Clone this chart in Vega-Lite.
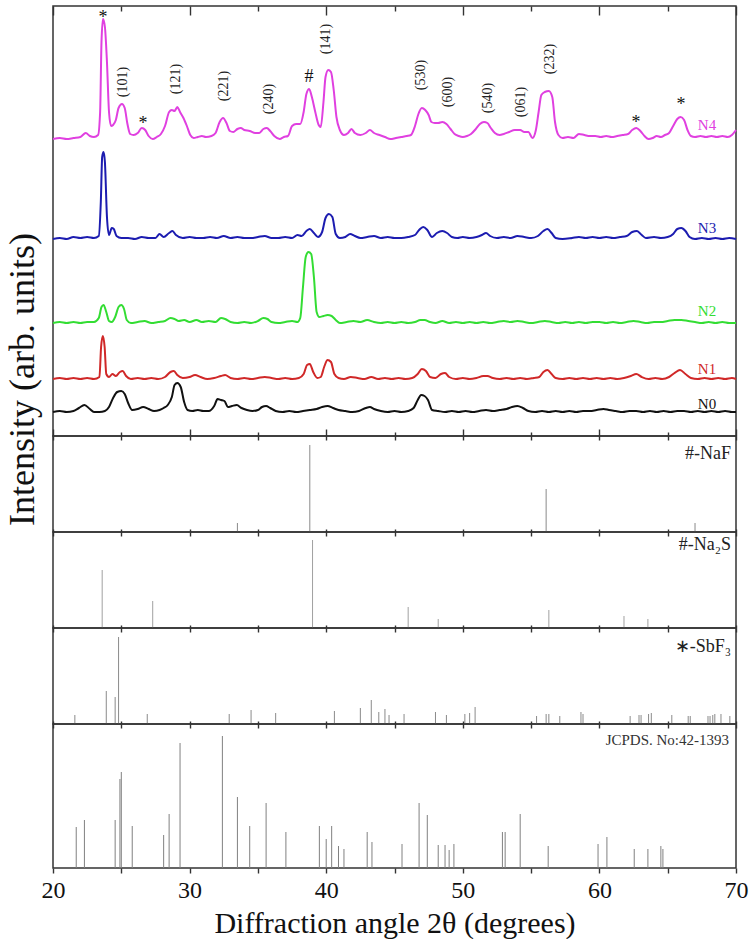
{
"$schema":"https://vega.github.io/schema/vega-lite/v6.json",
"padding":{"left":3,"top":4,"right":0,"bottom":0},
"background":"white",
"bounds":"flush",
"config":{"view":{"stroke":"#333","strokeWidth":1.5},"font":"Liberation Serif","axis":{"domain":false,"grid":false,"tickColor":"#333","tickWidth":1.4}},
"datasets":{
"traces":[
{"s":"N4","t":20,"v":297},{"s":"N4","t":20.5,"v":298},{"s":"N4","t":21,"v":297},{"s":"N4","t":21.5,"v":298},{"s":"N4","t":22,"v":299},{"s":"N4","t":22.4,"v":303},{"s":"N4","t":22.7,"v":300},{"s":"N4","t":23,"v":299},{"s":"N4","t":23.3,"v":301},{"s":"N4","t":23.45,"v":324},{"s":"N4","t":23.55,"v":394},{"s":"N4","t":23.66,"v":417},{"s":"N4","t":23.8,"v":409},{"s":"N4","t":23.95,"v":374},{"s":"N4","t":24.1,"v":324},{"s":"N4","t":24.25,"v":310},{"s":"N4","t":24.4,"v":311},{"s":"N4","t":24.6,"v":316},{"s":"N4","t":24.8,"v":328},{"s":"N4","t":25.05,"v":332},{"s":"N4","t":25.25,"v":328},{"s":"N4","t":25.45,"v":312},{"s":"N4","t":25.65,"v":302},{"s":"N4","t":25.9,"v":301},{"s":"N4","t":26.2,"v":303},{"s":"N4","t":26.5,"v":308},{"s":"N4","t":26.75,"v":306},{"s":"N4","t":27,"v":300},{"s":"N4","t":27.3,"v":297},{"s":"N4","t":27.6,"v":299},{"s":"N4","t":27.9,"v":302},{"s":"N4","t":28.2,"v":310},{"s":"N4","t":28.5,"v":324},{"s":"N4","t":28.7,"v":326},{"s":"N4","t":28.9,"v":325},{"s":"N4","t":29.1,"v":329},{"s":"N4","t":29.3,"v":324},{"s":"N4","t":29.55,"v":318},{"s":"N4","t":29.8,"v":310},{"s":"N4","t":30.05,"v":301},{"s":"N4","t":30.3,"v":298},{"s":"N4","t":30.6,"v":299},{"s":"N4","t":30.9,"v":300},{"s":"N4","t":31.2,"v":299},{"s":"N4","t":31.6,"v":300},{"s":"N4","t":31.9,"v":303},{"s":"N4","t":32.2,"v":314},{"s":"N4","t":32.45,"v":318},{"s":"N4","t":32.7,"v":313},{"s":"N4","t":32.95,"v":305},{"s":"N4","t":33.2,"v":304},{"s":"N4","t":33.5,"v":307},{"s":"N4","t":33.75,"v":308},{"s":"N4","t":34,"v":306},{"s":"N4","t":34.4,"v":305},{"s":"N4","t":34.8,"v":303},{"s":"N4","t":35.1,"v":303},{"s":"N4","t":35.4,"v":307},{"s":"N4","t":35.65,"v":308},{"s":"N4","t":35.9,"v":305},{"s":"N4","t":36.2,"v":300},{"s":"N4","t":36.6,"v":297},{"s":"N4","t":36.9,"v":299},{"s":"N4","t":37.2,"v":300},{"s":"N4","t":37.5,"v":310},{"s":"N4","t":37.8,"v":312},{"s":"N4","t":38.1,"v":312},{"s":"N4","t":38.35,"v":324},{"s":"N4","t":38.55,"v":342},{"s":"N4","t":38.75,"v":347},{"s":"N4","t":38.95,"v":339},{"s":"N4","t":39.2,"v":324},{"s":"N4","t":39.45,"v":311},{"s":"N4","t":39.6,"v":309},{"s":"N4","t":39.8,"v":334},{"s":"N4","t":39.95,"v":359},{"s":"N4","t":40.15,"v":366},{"s":"N4","t":40.35,"v":364},{"s":"N4","t":40.55,"v":346},{"s":"N4","t":40.75,"v":319},{"s":"N4","t":41,"v":306},{"s":"N4","t":41.3,"v":301},{"s":"N4","t":41.6,"v":303},{"s":"N4","t":41.85,"v":307},{"s":"N4","t":42.1,"v":303},{"s":"N4","t":42.5,"v":301},{"s":"N4","t":42.9,"v":303},{"s":"N4","t":43.2,"v":306},{"s":"N4","t":43.5,"v":303},{"s":"N4","t":43.9,"v":301},{"s":"N4","t":44.3,"v":299},{"s":"N4","t":44.7,"v":297},{"s":"N4","t":45.1,"v":298},{"s":"N4","t":45.5,"v":299},{"s":"N4","t":45.9,"v":300},{"s":"N4","t":46.2,"v":301},{"s":"N4","t":46.5,"v":310},{"s":"N4","t":46.75,"v":322},{"s":"N4","t":47,"v":328},{"s":"N4","t":47.25,"v":326},{"s":"N4","t":47.5,"v":321},{"s":"N4","t":47.7,"v":314},{"s":"N4","t":47.95,"v":313},{"s":"N4","t":48.2,"v":313},{"s":"N4","t":48.5,"v":314},{"s":"N4","t":48.8,"v":312},{"s":"N4","t":49.1,"v":307},{"s":"N4","t":49.4,"v":302},{"s":"N4","t":49.7,"v":300},{"s":"N4","t":50,"v":299},{"s":"N4","t":50.3,"v":300},{"s":"N4","t":50.6,"v":302},{"s":"N4","t":50.95,"v":307},{"s":"N4","t":51.25,"v":312},{"s":"N4","t":51.55,"v":314},{"s":"N4","t":51.8,"v":313},{"s":"N4","t":52.05,"v":308},{"s":"N4","t":52.35,"v":303},{"s":"N4","t":52.7,"v":301},{"s":"N4","t":53,"v":302},{"s":"N4","t":53.4,"v":304},{"s":"N4","t":53.8,"v":306},{"s":"N4","t":54.2,"v":306},{"s":"N4","t":54.5,"v":304},{"s":"N4","t":54.8,"v":304},{"s":"N4","t":55.1,"v":298},{"s":"N4","t":55.35,"v":306},{"s":"N4","t":55.55,"v":324},{"s":"N4","t":55.75,"v":341},{"s":"N4","t":56,"v":344},{"s":"N4","t":56.3,"v":345},{"s":"N4","t":56.55,"v":339},{"s":"N4","t":56.75,"v":314},{"s":"N4","t":57,"v":301},{"s":"N4","t":57.3,"v":298},{"s":"N4","t":57.7,"v":299},{"s":"N4","t":58.1,"v":298},{"s":"N4","t":58.5,"v":302},{"s":"N4","t":58.9,"v":301},{"s":"N4","t":59.3,"v":300},{"s":"N4","t":59.7,"v":300},{"s":"N4","t":60.1,"v":299},{"s":"N4","t":60.5,"v":300},{"s":"N4","t":60.9,"v":299},{"s":"N4","t":61.3,"v":300},{"s":"N4","t":61.7,"v":301},{"s":"N4","t":62.1,"v":302},{"s":"N4","t":62.4,"v":306},{"s":"N4","t":62.7,"v":308},{"s":"N4","t":63,"v":305},{"s":"N4","t":63.3,"v":300},{"s":"N4","t":63.6,"v":297},{"s":"N4","t":63.9,"v":298},{"s":"N4","t":64.2,"v":300},{"s":"N4","t":64.5,"v":299},{"s":"N4","t":64.8,"v":301},{"s":"N4","t":65.1,"v":303},{"s":"N4","t":65.4,"v":310},{"s":"N4","t":65.7,"v":317},{"s":"N4","t":65.95,"v":319},{"s":"N4","t":66.2,"v":316},{"s":"N4","t":66.45,"v":306},{"s":"N4","t":66.7,"v":300},{"s":"N4","t":67,"v":299},{"s":"N4","t":67.4,"v":300},{"s":"N4","t":67.8,"v":299},{"s":"N4","t":68.2,"v":300},{"s":"N4","t":68.6,"v":299},{"s":"N4","t":69,"v":300},{"s":"N4","t":69.4,"v":299},{"s":"N4","t":69.7,"v":301},{"s":"N4","t":70,"v":306},
{"s":"N3","t":20,"v":197},{"s":"N3","t":20.5,"v":198},{"s":"N3","t":21,"v":197},{"s":"N3","t":21.5,"v":199},{"s":"N3","t":22,"v":198},{"s":"N3","t":22.5,"v":199},{"s":"N3","t":23,"v":198},{"s":"N3","t":23.35,"v":200},{"s":"N3","t":23.5,"v":234},{"s":"N3","t":23.6,"v":279},{"s":"N3","t":23.7,"v":284},{"s":"N3","t":23.8,"v":274},{"s":"N3","t":23.95,"v":219},{"s":"N3","t":24.1,"v":201},{"s":"N3","t":24.3,"v":208},{"s":"N3","t":24.45,"v":207},{"s":"N3","t":24.65,"v":200},{"s":"N3","t":25,"v":198},{"s":"N3","t":25.5,"v":198},{"s":"N3","t":26,"v":197},{"s":"N3","t":26.5,"v":199},{"s":"N3","t":27,"v":198},{"s":"N3","t":27.5,"v":198},{"s":"N3","t":27.8,"v":202},{"s":"N3","t":28.1,"v":199},{"s":"N3","t":28.5,"v":203},{"s":"N3","t":28.75,"v":205},{"s":"N3","t":29,"v":201},{"s":"N3","t":29.5,"v":198},{"s":"N3","t":30,"v":199},{"s":"N3","t":30.5,"v":198},{"s":"N3","t":31,"v":198},{"s":"N3","t":31.5,"v":199},{"s":"N3","t":32,"v":198},{"s":"N3","t":32.5,"v":200},{"s":"N3","t":33,"v":198},{"s":"N3","t":33.5,"v":199},{"s":"N3","t":34,"v":198},{"s":"N3","t":34.5,"v":198},{"s":"N3","t":35,"v":199},{"s":"N3","t":35.5,"v":200},{"s":"N3","t":36,"v":198},{"s":"N3","t":36.5,"v":198},{"s":"N3","t":37,"v":199},{"s":"N3","t":37.5,"v":198},{"s":"N3","t":37.9,"v":201},{"s":"N3","t":38.2,"v":200},{"s":"N3","t":38.55,"v":205},{"s":"N3","t":38.8,"v":207},{"s":"N3","t":39.1,"v":203},{"s":"N3","t":39.4,"v":199},{"s":"N3","t":39.7,"v":204},{"s":"N3","t":39.95,"v":218},{"s":"N3","t":40.2,"v":222},{"s":"N3","t":40.45,"v":219},{"s":"N3","t":40.7,"v":202},{"s":"N3","t":41,"v":198},{"s":"N3","t":41.4,"v":199},{"s":"N3","t":41.75,"v":202},{"s":"N3","t":42.1,"v":200},{"s":"N3","t":42.5,"v":198},{"s":"N3","t":43,"v":199},{"s":"N3","t":43.5,"v":200},{"s":"N3","t":44,"v":198},{"s":"N3","t":44.5,"v":199},{"s":"N3","t":45,"v":198},{"s":"N3","t":45.5,"v":198},{"s":"N3","t":46,"v":199},{"s":"N3","t":46.5,"v":201},{"s":"N3","t":46.8,"v":206},{"s":"N3","t":47.1,"v":209},{"s":"N3","t":47.4,"v":206},{"s":"N3","t":47.75,"v":199},{"s":"N3","t":48.1,"v":203},{"s":"N3","t":48.5,"v":205},{"s":"N3","t":48.85,"v":203},{"s":"N3","t":49.2,"v":199},{"s":"N3","t":49.6,"v":198},{"s":"N3","t":50,"v":199},{"s":"N3","t":50.5,"v":198},{"s":"N3","t":51,"v":199},{"s":"N3","t":51.4,"v":201},{"s":"N3","t":51.7,"v":203},{"s":"N3","t":52,"v":200},{"s":"N3","t":52.5,"v":198},{"s":"N3","t":53,"v":199},{"s":"N3","t":53.5,"v":198},{"s":"N3","t":54,"v":200},{"s":"N3","t":54.5,"v":199},{"s":"N3","t":55,"v":198},{"s":"N3","t":55.5,"v":200},{"s":"N3","t":55.9,"v":205},{"s":"N3","t":56.2,"v":207},{"s":"N3","t":56.5,"v":203},{"s":"N3","t":56.8,"v":198},{"s":"N3","t":57.3,"v":197},{"s":"N3","t":58,"v":198},{"s":"N3","t":58.5,"v":199},{"s":"N3","t":59,"v":198},{"s":"N3","t":59.5,"v":199},{"s":"N3","t":60,"v":198},{"s":"N3","t":60.5,"v":199},{"s":"N3","t":61,"v":198},{"s":"N3","t":61.5,"v":199},{"s":"N3","t":62,"v":200},{"s":"N3","t":62.4,"v":204},{"s":"N3","t":62.75,"v":205},{"s":"N3","t":63.1,"v":201},{"s":"N3","t":63.4,"v":198},{"s":"N3","t":64,"v":199},{"s":"N3","t":64.5,"v":198},{"s":"N3","t":65,"v":199},{"s":"N3","t":65.4,"v":202},{"s":"N3","t":65.7,"v":207},{"s":"N3","t":66,"v":208},{"s":"N3","t":66.3,"v":205},{"s":"N3","t":66.6,"v":199},{"s":"N3","t":67,"v":197},{"s":"N3","t":67.5,"v":198},{"s":"N3","t":68,"v":197},{"s":"N3","t":68.5,"v":198},{"s":"N3","t":69,"v":197},{"s":"N3","t":69.5,"v":198},{"s":"N3","t":70,"v":197},
{"s":"N2","t":20,"v":113},{"s":"N2","t":20.5,"v":114},{"s":"N2","t":21,"v":113},{"s":"N2","t":21.5,"v":114},{"s":"N2","t":22,"v":113},{"s":"N2","t":22.5,"v":114},{"s":"N2","t":23,"v":114},{"s":"N2","t":23.35,"v":118},{"s":"N2","t":23.55,"v":129},{"s":"N2","t":23.7,"v":131},{"s":"N2","t":23.9,"v":124},{"s":"N2","t":24.1,"v":115},{"s":"N2","t":24.3,"v":114},{"s":"N2","t":24.55,"v":119},{"s":"N2","t":24.8,"v":129},{"s":"N2","t":25,"v":131},{"s":"N2","t":25.2,"v":127},{"s":"N2","t":25.4,"v":116},{"s":"N2","t":25.7,"v":113},{"s":"N2","t":26.2,"v":114},{"s":"N2","t":26.7,"v":115},{"s":"N2","t":27.2,"v":113},{"s":"N2","t":27.7,"v":114},{"s":"N2","t":28.2,"v":115},{"s":"N2","t":28.6,"v":118},{"s":"N2","t":28.9,"v":117},{"s":"N2","t":29.2,"v":115},{"s":"N2","t":29.6,"v":116},{"s":"N2","t":30,"v":114},{"s":"N2","t":30.5,"v":116},{"s":"N2","t":30.9,"v":114},{"s":"N2","t":31.4,"v":115},{"s":"N2","t":31.9,"v":114},{"s":"N2","t":32.3,"v":118},{"s":"N2","t":32.6,"v":117},{"s":"N2","t":33,"v":114},{"s":"N2","t":33.5,"v":113},{"s":"N2","t":34,"v":114},{"s":"N2","t":34.5,"v":113},{"s":"N2","t":35,"v":115},{"s":"N2","t":35.4,"v":118},{"s":"N2","t":35.7,"v":117},{"s":"N2","t":36,"v":114},{"s":"N2","t":36.5,"v":113},{"s":"N2","t":37,"v":114},{"s":"N2","t":37.5,"v":115},{"s":"N2","t":37.9,"v":114},{"s":"N2","t":38.1,"v":118},{"s":"N2","t":38.3,"v":149},{"s":"N2","t":38.5,"v":179},{"s":"N2","t":38.7,"v":184},{"s":"N2","t":38.9,"v":182},{"s":"N2","t":39.1,"v":159},{"s":"N2","t":39.3,"v":124},{"s":"N2","t":39.5,"v":119},{"s":"N2","t":39.8,"v":120},{"s":"N2","t":40.1,"v":121},{"s":"N2","t":40.4,"v":120},{"s":"N2","t":40.7,"v":116},{"s":"N2","t":41,"v":113},{"s":"N2","t":41.5,"v":114},{"s":"N2","t":42,"v":115},{"s":"N2","t":42.5,"v":114},{"s":"N2","t":43,"v":116},{"s":"N2","t":43.5,"v":114},{"s":"N2","t":44,"v":113},{"s":"N2","t":44.5,"v":114},{"s":"N2","t":45,"v":113},{"s":"N2","t":45.5,"v":114},{"s":"N2","t":46,"v":113},{"s":"N2","t":46.5,"v":114},{"s":"N2","t":46.9,"v":116},{"s":"N2","t":47.2,"v":116},{"s":"N2","t":47.6,"v":114},{"s":"N2","t":48,"v":113},{"s":"N2","t":48.5,"v":115},{"s":"N2","t":49,"v":113},{"s":"N2","t":49.5,"v":114},{"s":"N2","t":50,"v":113},{"s":"N2","t":50.5,"v":114},{"s":"N2","t":51,"v":113},{"s":"N2","t":51.5,"v":114},{"s":"N2","t":52,"v":113},{"s":"N2","t":52.5,"v":114},{"s":"N2","t":53,"v":115},{"s":"N2","t":53.5,"v":114},{"s":"N2","t":54,"v":115},{"s":"N2","t":54.5,"v":114},{"s":"N2","t":55,"v":113},{"s":"N2","t":55.5,"v":114},{"s":"N2","t":56,"v":115},{"s":"N2","t":56.5,"v":114},{"s":"N2","t":57,"v":113},{"s":"N2","t":57.5,"v":114},{"s":"N2","t":58,"v":113},{"s":"N2","t":58.5,"v":114},{"s":"N2","t":59,"v":113},{"s":"N2","t":59.5,"v":114},{"s":"N2","t":60,"v":114},{"s":"N2","t":60.5,"v":113},{"s":"N2","t":61,"v":114},{"s":"N2","t":61.5,"v":113},{"s":"N2","t":62,"v":114},{"s":"N2","t":62.5,"v":115},{"s":"N2","t":63,"v":114},{"s":"N2","t":63.5,"v":113},{"s":"N2","t":64,"v":114},{"s":"N2","t":64.5,"v":114},{"s":"N2","t":65,"v":115},{"s":"N2","t":65.5,"v":116},{"s":"N2","t":66,"v":116},{"s":"N2","t":66.5,"v":115},{"s":"N2","t":67,"v":114},{"s":"N2","t":67.5,"v":113},{"s":"N2","t":68,"v":114},{"s":"N2","t":68.5,"v":113},{"s":"N2","t":69,"v":114},{"s":"N2","t":69.5,"v":113},{"s":"N2","t":70,"v":113},
{"s":"N1","t":20,"v":57},{"s":"N1","t":20.5,"v":58},{"s":"N1","t":21,"v":57},{"s":"N1","t":21.5,"v":58},{"s":"N1","t":22,"v":57},{"s":"N1","t":22.5,"v":58},{"s":"N1","t":23,"v":57},{"s":"N1","t":23.4,"v":59},{"s":"N1","t":23.52,"v":89},{"s":"N1","t":23.65,"v":100},{"s":"N1","t":23.78,"v":89},{"s":"N1","t":23.9,"v":62},{"s":"N1","t":24.1,"v":59},{"s":"N1","t":24.35,"v":62},{"s":"N1","t":24.6,"v":60},{"s":"N1","t":24.9,"v":64},{"s":"N1","t":25.1,"v":65},{"s":"N1","t":25.35,"v":60},{"s":"N1","t":25.7,"v":57},{"s":"N1","t":26.2,"v":58},{"s":"N1","t":26.7,"v":57},{"s":"N1","t":27.2,"v":58},{"s":"N1","t":27.7,"v":57},{"s":"N1","t":28.2,"v":59},{"s":"N1","t":28.6,"v":64},{"s":"N1","t":28.85,"v":65},{"s":"N1","t":29.1,"v":61},{"s":"N1","t":29.5,"v":58},{"s":"N1","t":30,"v":59},{"s":"N1","t":30.4,"v":61},{"s":"N1","t":30.8,"v":59},{"s":"N1","t":31.3,"v":57},{"s":"N1","t":31.8,"v":58},{"s":"N1","t":32.3,"v":60},{"s":"N1","t":32.6,"v":61},{"s":"N1","t":33,"v":58},{"s":"N1","t":33.5,"v":57},{"s":"N1","t":34,"v":58},{"s":"N1","t":34.5,"v":57},{"s":"N1","t":35,"v":58},{"s":"N1","t":35.5,"v":59},{"s":"N1","t":36,"v":58},{"s":"N1","t":36.5,"v":57},{"s":"N1","t":37,"v":58},{"s":"N1","t":37.5,"v":57},{"s":"N1","t":38,"v":58},{"s":"N1","t":38.35,"v":62},{"s":"N1","t":38.6,"v":71},{"s":"N1","t":38.8,"v":72},{"s":"N1","t":39.05,"v":64},{"s":"N1","t":39.35,"v":58},{"s":"N1","t":39.6,"v":59},{"s":"N1","t":39.85,"v":69},{"s":"N1","t":40.1,"v":76},{"s":"N1","t":40.35,"v":74},{"s":"N1","t":40.6,"v":62},{"s":"N1","t":40.9,"v":58},{"s":"N1","t":41.3,"v":57},{"s":"N1","t":41.8,"v":59},{"s":"N1","t":42.3,"v":58},{"s":"N1","t":42.8,"v":57},{"s":"N1","t":43.3,"v":59},{"s":"N1","t":43.8,"v":57},{"s":"N1","t":44.3,"v":58},{"s":"N1","t":44.8,"v":57},{"s":"N1","t":45.3,"v":58},{"s":"N1","t":45.8,"v":57},{"s":"N1","t":46.3,"v":58},{"s":"N1","t":46.7,"v":62},{"s":"N1","t":47,"v":67},{"s":"N1","t":47.3,"v":65},{"s":"N1","t":47.6,"v":59},{"s":"N1","t":48,"v":58},{"s":"N1","t":48.4,"v":62},{"s":"N1","t":48.7,"v":63},{"s":"N1","t":49,"v":59},{"s":"N1","t":49.5,"v":57},{"s":"N1","t":50,"v":58},{"s":"N1","t":50.5,"v":57},{"s":"N1","t":51,"v":58},{"s":"N1","t":51.5,"v":60},{"s":"N1","t":51.8,"v":60},{"s":"N1","t":52.2,"v":58},{"s":"N1","t":52.7,"v":57},{"s":"N1","t":53.2,"v":58},{"s":"N1","t":53.7,"v":57},{"s":"N1","t":54.2,"v":58},{"s":"N1","t":54.7,"v":57},{"s":"N1","t":55.2,"v":58},{"s":"N1","t":55.6,"v":59},{"s":"N1","t":55.9,"v":64},{"s":"N1","t":56.2,"v":66},{"s":"N1","t":56.5,"v":62},{"s":"N1","t":56.8,"v":58},{"s":"N1","t":57.3,"v":57},{"s":"N1","t":57.8,"v":58},{"s":"N1","t":58.3,"v":57},{"s":"N1","t":58.8,"v":58},{"s":"N1","t":59.3,"v":57},{"s":"N1","t":59.8,"v":58},{"s":"N1","t":60.3,"v":57},{"s":"N1","t":60.8,"v":58},{"s":"N1","t":61.3,"v":57},{"s":"N1","t":61.8,"v":58},{"s":"N1","t":62.3,"v":60},{"s":"N1","t":62.7,"v":62},{"s":"N1","t":63.1,"v":59},{"s":"N1","t":63.6,"v":57},{"s":"N1","t":64.1,"v":58},{"s":"N1","t":64.6,"v":57},{"s":"N1","t":65.1,"v":59},{"s":"N1","t":65.5,"v":63},{"s":"N1","t":65.9,"v":66},{"s":"N1","t":66.3,"v":62},{"s":"N1","t":66.7,"v":58},{"s":"N1","t":67.2,"v":57},{"s":"N1","t":67.7,"v":58},{"s":"N1","t":68.2,"v":57},{"s":"N1","t":68.7,"v":58},{"s":"N1","t":69.2,"v":57},{"s":"N1","t":69.7,"v":58},{"s":"N1","t":70,"v":57},
{"s":"N0","t":20,"v":24},{"s":"N0","t":20.5,"v":25},{"s":"N0","t":21,"v":24},{"s":"N0","t":21.5,"v":25},{"s":"N0","t":21.9,"v":28},{"s":"N0","t":22.3,"v":31},{"s":"N0","t":22.7,"v":27},{"s":"N0","t":23,"v":24},{"s":"N0","t":23.4,"v":24},{"s":"N0","t":23.8,"v":25},{"s":"N0","t":24.1,"v":29},{"s":"N0","t":24.4,"v":38},{"s":"N0","t":24.7,"v":44},{"s":"N0","t":25,"v":45},{"s":"N0","t":25.25,"v":42},{"s":"N0","t":25.5,"v":33},{"s":"N0","t":25.8,"v":26},{"s":"N0","t":26.2,"v":27},{"s":"N0","t":26.6,"v":29},{"s":"N0","t":27,"v":27},{"s":"N0","t":27.4,"v":25},{"s":"N0","t":27.8,"v":26},{"s":"N0","t":28.1,"v":28},{"s":"N0","t":28.4,"v":31},{"s":"N0","t":28.7,"v":39},{"s":"N0","t":28.9,"v":51},{"s":"N0","t":29.1,"v":53},{"s":"N0","t":29.35,"v":49},{"s":"N0","t":29.6,"v":34},{"s":"N0","t":29.85,"v":26},{"s":"N0","t":30.2,"v":25},{"s":"N0","t":30.6,"v":26},{"s":"N0","t":31,"v":25},{"s":"N0","t":31.4,"v":25},{"s":"N0","t":31.8,"v":30},{"s":"N0","t":32.05,"v":37},{"s":"N0","t":32.3,"v":36},{"s":"N0","t":32.55,"v":35},{"s":"N0","t":32.8,"v":29},{"s":"N0","t":33.1,"v":30},{"s":"N0","t":33.45,"v":31},{"s":"N0","t":33.8,"v":28},{"s":"N0","t":34.2,"v":26},{"s":"N0","t":34.6,"v":25},{"s":"N0","t":35,"v":26},{"s":"N0","t":35.3,"v":29},{"s":"N0","t":35.6,"v":30},{"s":"N0","t":35.9,"v":28},{"s":"N0","t":36.3,"v":25},{"s":"N0","t":36.8,"v":24},{"s":"N0","t":37.3,"v":25},{"s":"N0","t":37.8,"v":24},{"s":"N0","t":38.3,"v":25},{"s":"N0","t":38.8,"v":26},{"s":"N0","t":39.3,"v":27},{"s":"N0","t":39.7,"v":29},{"s":"N0","t":40.1,"v":30},{"s":"N0","t":40.5,"v":28},{"s":"N0","t":40.9,"v":26},{"s":"N0","t":41.4,"v":25},{"s":"N0","t":41.9,"v":24},{"s":"N0","t":42.4,"v":25},{"s":"N0","t":42.9,"v":28},{"s":"N0","t":43.2,"v":29},{"s":"N0","t":43.5,"v":27},{"s":"N0","t":44,"v":25},{"s":"N0","t":44.5,"v":24},{"s":"N0","t":45,"v":25},{"s":"N0","t":45.5,"v":24},{"s":"N0","t":46,"v":25},{"s":"N0","t":46.4,"v":28},{"s":"N0","t":46.7,"v":36},{"s":"N0","t":46.95,"v":41},{"s":"N0","t":47.2,"v":40},{"s":"N0","t":47.45,"v":36},{"s":"N0","t":47.75,"v":26},{"s":"N0","t":48.2,"v":25},{"s":"N0","t":48.7,"v":24},{"s":"N0","t":49.2,"v":25},{"s":"N0","t":49.7,"v":24},{"s":"N0","t":50.2,"v":25},{"s":"N0","t":50.7,"v":24},{"s":"N0","t":51.2,"v":25},{"s":"N0","t":51.7,"v":26},{"s":"N0","t":52.2,"v":25},{"s":"N0","t":52.7,"v":26},{"s":"N0","t":53.2,"v":27},{"s":"N0","t":53.6,"v":29},{"s":"N0","t":54,"v":30},{"s":"N0","t":54.4,"v":28},{"s":"N0","t":54.8,"v":25},{"s":"N0","t":55.3,"v":24},{"s":"N0","t":55.8,"v":25},{"s":"N0","t":56.3,"v":24},{"s":"N0","t":56.8,"v":25},{"s":"N0","t":57.3,"v":24},{"s":"N0","t":57.8,"v":25},{"s":"N0","t":58.3,"v":24},{"s":"N0","t":58.8,"v":25},{"s":"N0","t":59.3,"v":25},{"s":"N0","t":59.8,"v":26},{"s":"N0","t":60.3,"v":27},{"s":"N0","t":60.7,"v":26},{"s":"N0","t":61.2,"v":25},{"s":"N0","t":61.7,"v":24},{"s":"N0","t":62.2,"v":25},{"s":"N0","t":62.7,"v":25},{"s":"N0","t":63.2,"v":24},{"s":"N0","t":63.7,"v":25},{"s":"N0","t":64.2,"v":24},{"s":"N0","t":64.7,"v":25},{"s":"N0","t":65.2,"v":24},{"s":"N0","t":65.7,"v":25},{"s":"N0","t":66.2,"v":25},{"s":"N0","t":66.7,"v":24},{"s":"N0","t":67.2,"v":25},{"s":"N0","t":67.7,"v":24},{"s":"N0","t":68.2,"v":25},{"s":"N0","t":68.7,"v":24},{"s":"N0","t":69.2,"v":25},{"s":"N0","t":69.7,"v":24},{"s":"N0","t":70,"v":24}
],
"nlab":[{"s":"N4","t":67.88,"v":311},{"s":"N3","t":67.88,"v":208},{"s":"N2","t":67.88,"v":125},{"s":"N1","t":67.88,"v":67},{"s":"N0","t":67.88,"v":32}],
"hkl":[{"label":"(101)","t":25.12,"v":354},{"label":"(121)","t":29.0,"v":357},{"label":"(221)","t":32.52,"v":350},{"label":"(240)","t":35.81,"v":337},{"label":"(141)","t":39.99,"v":397},{"label":"(530)","t":46.94,"v":361},{"label":"(600)","t":48.92,"v":344},{"label":"(540)","t":51.84,"v":338},{"label":"(061)","t":54.26,"v":334},{"label":"(232)","t":56.38,"v":377}],
"sym":[{"label":"*","t":23.66,"v":418},{"label":"*","t":26.59,"v":312},{"label":"#","t":38.74,"v":359},{"label":"*","t":62.68,"v":313},{"label":"*","t":65.97,"v":331}],
"naf":[{"t":33.5,"h":9},{"t":38.8,"h":87},{"t":56.1,"h":43},{"t":67.0,"h":9}],
"na2s":[{"t":23.6,"h":58},{"t":27.3,"h":27},{"t":39.0,"h":88},{"t":46.0,"h":21},{"t":48.2,"h":9},{"t":56.3,"h":18},{"t":61.8,"h":12},{"t":63.55,"h":9}],
"sbf3":[{"t":21.6,"h":9},{"t":23.9,"h":33},{"t":24.55,"h":27},{"t":24.8,"h":87},{"t":26.9,"h":10},{"t":32.9,"h":10},{"t":34.5,"h":14},{"t":36.3,"h":11},{"t":40.6,"h":13},{"t":42.5,"h":16},{"t":43.3,"h":24},{"t":43.85,"h":12},{"t":44.3,"h":15},{"t":44.6,"h":9},{"t":45.7,"h":10},{"t":48.0,"h":12},{"t":48.8,"h":9},{"t":50.15,"h":10},{"t":50.5,"h":11},{"t":50.9,"h":17},{"t":55.4,"h":8},{"t":56.1,"h":10},{"t":56.3,"h":10},{"t":57.1,"h":8},{"t":58.65,"h":12},{"t":58.8,"h":10},{"t":62.25,"h":8},{"t":62.9,"h":9},{"t":63.05,"h":9},{"t":63.6,"h":10},{"t":63.8,"h":11},{"t":65.3,"h":9},{"t":66.5,"h":8},{"t":66.65,"h":8},{"t":67.95,"h":8},{"t":68.1,"h":8},{"t":68.3,"h":9},{"t":68.45,"h":10},{"t":68.9,"h":10},{"t":69.55,"h":8}],
"jcpds":[{"t":21.7,"h":41},{"t":22.3,"h":48},{"t":24.55,"h":48},{"t":24.9,"h":89},{"t":25.0,"h":96},{"t":25.8,"h":42},{"t":28.1,"h":33},{"t":28.5,"h":54},{"t":29.3,"h":125},{"t":32.4,"h":132},{"t":33.5,"h":71},{"t":34.4,"h":42},{"t":35.6,"h":65},{"t":37.05,"h":36},{"t":39.5,"h":42},{"t":40.0,"h":29},{"t":40.4,"h":42},{"t":40.9,"h":22},{"t":41.3,"h":19},{"t":43.0,"h":36},{"t":43.35,"h":26},{"t":45.55,"h":24},{"t":46.8,"h":65},{"t":47.4,"h":53},{"t":48.2,"h":23},{"t":48.7,"h":23},{"t":49.0,"h":18},{"t":49.35,"h":24},{"t":52.9,"h":36},{"t":53.1,"h":36},{"t":54.2,"h":54},{"t":56.25,"h":22},{"t":59.9,"h":24},{"t":60.55,"h":31},{"t":62.55,"h":19},{"t":63.55,"h":19},{"t":64.5,"h":22},{"t":64.65,"h":19}]
},
"vconcat":[
{
"width":683,"height":430,
"encoding":{"y":{"field":"v","type":"quantitative","scale":{"domain":[0,430],"nice":false,"zero":false},"axis":{"title":"Intensity (arb. units)","labels":false,"ticks":false,"titleFont":"Liberation Serif","titleFontSize":36,"titleFontWeight":"normal","titleColor":"#111","titleY":373,"titlePadding":12}}},
"layer":[
{"data":{"name":"traces"},"mark":{"type":"line","strokeWidth":2,"interpolate":"monotone"},
"encoding":{"x":{"field":"t","type":"quantitative","scale":{"domain":[20,70],"nice":false,"zero":false},"axis":{"orient":"bottom","values":[20,30,40,50,60,70],"labels":false,"title":null,"tickSize":-7}},
"color":{"field":"s","type":"nominal","scale":{"domain":["N0","N1","N2","N3","N4"],"range":["#111111","#d02828","#33dd33","#1c1cb0","#e040e0"]},"legend":null}}},
{"data":{"name":"nlab"},"mark":{"type":"text","font":"Liberation Serif","fontSize":15,"baseline":"middle"},
"encoding":{"x":{"field":"t","type":"quantitative","scale":{"domain":[20,70],"nice":false,"zero":false},"axis":{"orient":"top","values":[20,30,40,50,60,70],"labels":false,"title":null,"tickSize":-9}},"text":{"field":"s"},
"color":{"field":"s","type":"nominal","scale":{"domain":["N0","N1","N2","N3","N4"],"range":["#111111","#d02828","#33dd33","#1c1cb0","#e040e0"]},"legend":null}}},
{"data":{"name":"hkl"},"mark":{"type":"text","font":"Liberation Serif","fontSize":14,"angle":270,"baseline":"middle","color":"#222"},
"encoding":{"x":{"field":"t","type":"quantitative","scale":{"domain":[20,70],"nice":false,"zero":false},"axis":{"orient":"bottom","values":[25,35,45,55,65],"labels":false,"title":null,"tickSize":-4}},"text":{"field":"label"}}},
{"data":{"name":"sym"},"mark":{"type":"text","font":"Liberation Serif","fontSize":18,"baseline":"middle","color":"#111"},
"encoding":{"x":{"field":"t","type":"quantitative","scale":{"domain":[20,70],"nice":false,"zero":false},"axis":{"orient":"top","values":[25,35,45,55,65],"labels":false,"title":null,"tickSize":-5}},"text":{"field":"label"}}}
],
"resolve":{"axis":{"x":"independent"}}
},
{
"width":683,"height":96,
"encoding":{"y":{"field":"h","type":"quantitative","scale":{"domain":[0,96],"nice":false,"zero":false},"axis":null}},
"layer":[
{"data":{"name":"naf"},"mark":{"type":"rule","color":"#8a8a8a","strokeWidth":1},
"encoding":{"x":{"field":"t","type":"quantitative","scale":{"domain":[20,70],"nice":false,"zero":false},"axis":{"orient":"bottom","values":[20,25,30,35,40,45,50,55,60,65,70],"labels":false,"title":null,"tickSize":-3}},"y2":{"datum":0}}},
{"data":{"values":[{"t":69.63,"h":78,"label":"#-NaF"}]},"mark":{"type":"text","align":"right","baseline":"middle","font":"Liberation Serif","fontSize":18,"color":"#222"},
"encoding":{"x":{"field":"t","type":"quantitative","scale":{"domain":[20,70],"nice":false,"zero":false},"axis":{"orient":"top","values":[20,25,30,35,40,45,50,55,60,65,70],"labels":false,"title":null,"tickSize":-4}},"text":{"field":"label"}}}
],
"resolve":{"axis":{"x":"independent"}}
},
{
"width":683,"height":96,
"encoding":{"y":{"field":"h","type":"quantitative","scale":{"domain":[0,96],"nice":false,"zero":false},"axis":null}},
"layer":[
{"data":{"name":"na2s"},"mark":{"type":"rule","color":"#a0a0a0","strokeWidth":1},
"encoding":{"x":{"field":"t","type":"quantitative","scale":{"domain":[20,70],"nice":false,"zero":false},"axis":{"orient":"bottom","values":[20,25,30,35,40,45,50,55,60,65,70],"labels":false,"title":null,"tickSize":-3}},"y2":{"datum":0}}},
{"data":{"values":[{"t":69.63,"h":83,"label":"#-Na₂S"}]},"mark":{"type":"text","align":"right","baseline":"middle","font":"Liberation Serif","fontSize":18,"color":"#222"},
"encoding":{"x":{"field":"t","type":"quantitative","scale":{"domain":[20,70],"nice":false,"zero":false},"axis":{"orient":"top","values":[20,25,30,35,40,45,50,55,60,65,70],"labels":false,"title":null,"tickSize":-4}},"text":{"field":"label"}}}
],
"resolve":{"axis":{"x":"independent"}}
},
{
"width":683,"height":96,
"encoding":{"y":{"field":"h","type":"quantitative","scale":{"domain":[0,96],"nice":false,"zero":false},"axis":null}},
"layer":[
{"data":{"name":"sbf3"},"mark":{"type":"rule","color":"#8a8a8a","strokeWidth":1},
"encoding":{"x":{"field":"t","type":"quantitative","scale":{"domain":[20,70],"nice":false,"zero":false},"axis":{"orient":"bottom","values":[20,25,30,35,40,45,50,55,60,65,70],"labels":false,"title":null,"tickSize":-3}},"y2":{"datum":0}}},
{"data":{"values":[{"t":69.63,"h":77,"label":"∗-SbF₃"}]},"mark":{"type":"text","align":"right","baseline":"middle","font":"Liberation Serif","fontSize":18,"color":"#222"},
"encoding":{"x":{"field":"t","type":"quantitative","scale":{"domain":[20,70],"nice":false,"zero":false},"axis":{"orient":"top","values":[20,25,30,35,40,45,50,55,60,65,70],"labels":false,"title":null,"tickSize":-4}},"text":{"field":"label"}}}
],
"resolve":{"axis":{"x":"independent"}}
},
{
"width":683,"height":144,
"encoding":{"y":{"field":"h","type":"quantitative","scale":{"domain":[0,144],"nice":false,"zero":false},"axis":null}},
"layer":[
{"data":{"name":"jcpds"},"mark":{"type":"rule","color":"#808080","strokeWidth":1},
"encoding":{"x":{"field":"t","type":"quantitative","scale":{"domain":[20,70],"nice":false,"zero":false},"axis":{"orient":"bottom","values":[20,25,30,35,40,45,50,55,60,65,70],"labelExpr":"datum.value % 10 === 0 ? datum.label : ''","labelFlush":false,"labelFont":"Liberation Serif","labelFontSize":24,"labelColor":"#111","labelPadding":5,"title":"Diffraction angle 2θ (degrees)","titleFont":"Liberation Serif","titleFontSize":30,"titleFontWeight":"normal","titleColor":"#111","titlePadding":6,"tickSize":5}},"y2":{"datum":0}}},
{"data":{"values":[{"t":69.49,"h":128,"label":"JCPDS. No:42-1393"}]},"mark":{"type":"text","align":"right","baseline":"middle","font":"Liberation Serif","fontSize":15,"color":"#333"},
"encoding":{"x":{"field":"t","type":"quantitative","scale":{"domain":[20,70],"nice":false,"zero":false},"axis":{"orient":"top","values":[20,25,30,35,40,45,50,55,60,65,70],"labels":false,"title":null,"tickSize":-4}},"text":{"field":"label"}}}
],
"resolve":{"axis":{"x":"independent"}}
}
],
"spacing":0
}
